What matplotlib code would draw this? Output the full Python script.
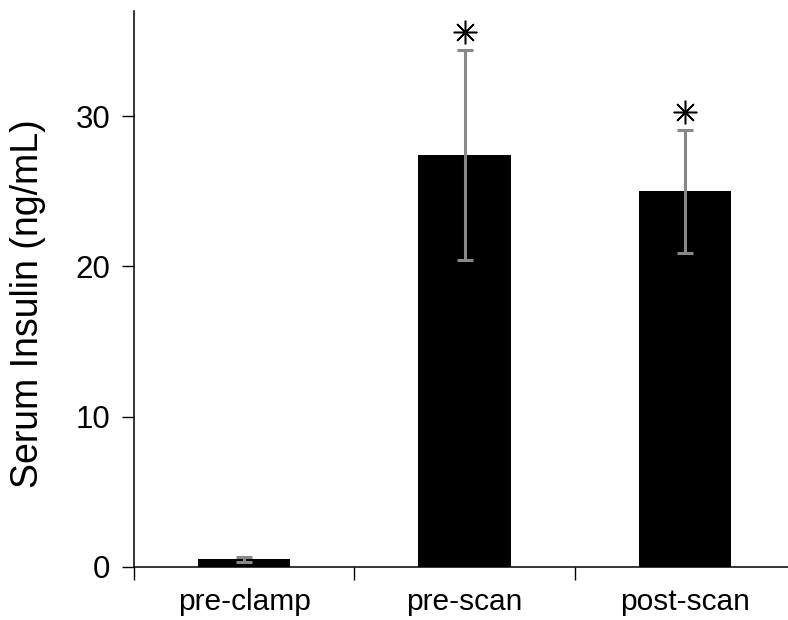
import matplotlib
matplotlib.use("Agg")
import matplotlib.pyplot as plt
import numpy as np

plt.rcParams['font.family'] = ['Liberation Sans', 'DejaVu Sans']

# data
groups = ["pre-clamp", "pre-scan", "post-scan"]
insulin = [0.5, 27.4, 25.0]
sem = [0.17, 7.0, 4.1]
signif = [False, True, True]
star_y = [0, 35.6, 30.3]

fig = plt.figure(figsize=(7.88, 6.2), dpi=100)
ax = fig.add_axes([0.170, 0.0855, 0.839, 0.897])

x = np.arange(len(groups)) + 0.5
ax.bar(x, insulin, width=0.42, color="black", zorder=2)
ax.errorbar(x, insulin, yerr=sem, fmt="none", ecolor="#888888",
            elinewidth=2.2, capsize=6, capthick=2.2, zorder=3)

for xi, s, yy in zip(x, signif, star_y):
    if s:
        ax.plot(xi, yy, marker=(8, 2, 0), markersize=17, color="black",
                markeredgewidth=1.1, zorder=4)

ax.set_xlim(0, 3)
ax.set_ylim(0, 37)
ax.set_yticks([0, 10, 20, 30])
ax.set_xticks([0, 1, 2, 3])
ax.set_xticklabels([])
ax.set_xticks(x, minor=True)
ax.set_xticklabels(groups, minor=True)
ax.tick_params(axis="x", which="major", direction="out", length=9.5, width=1)
ax.tick_params(axis="x", which="minor", length=0, pad=15, labelsize=21.5)
ax.tick_params(axis="y", direction="out", length=9, width=1, pad=8, labelsize=22.5)

ax.spines["top"].set_visible(False)
ax.spines["right"].set_visible(False)
ax.spines["left"].set_linewidth(1.1)
ax.spines["bottom"].set_linewidth(1.1)
ax.set_ylabel("Serum Insulin (ng/mL)", fontsize=27)
ax.yaxis.set_label_coords(-0.133, 0.473)

fig.savefig("out.png", dpi=100)
